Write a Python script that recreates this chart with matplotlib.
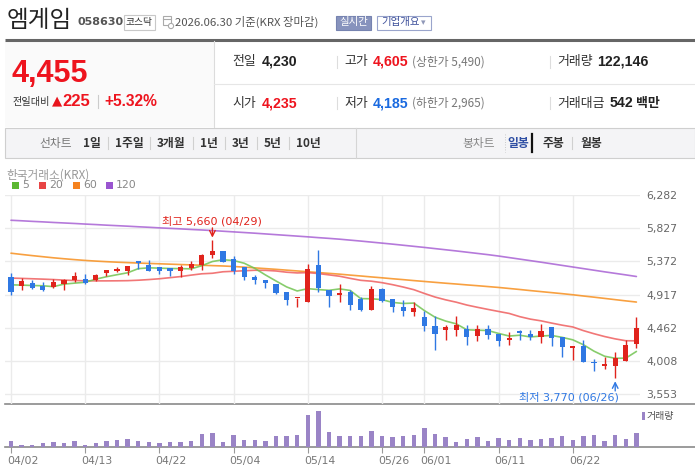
import matplotlib
matplotlib.use("Agg")
import matplotlib.pyplot as plt
import matplotlib.transforms as mtransforms
from matplotlib.patches import Rectangle
import numpy as np
import pandas as pd

# ---------------- data ----------------
dates = ["04/02","04/03","04/06","04/07","04/08","04/09","04/10","04/13","04/14","04/15",
         "04/16","04/17","04/20","04/21","04/22","04/23","04/24","04/27","04/28","04/29",
         "04/30","05/04","05/06","05/07","05/08","05/11","05/12","05/13","05/14","05/15",
         "05/18","05/19","05/20","05/21","05/22","05/26","05/27","05/28","05/29","06/01",
         "06/02","06/04","06/05","06/08","06/09","06/10","06/11","06/12","06/15","06/16",
         "06/17","06/18","06/19","06/22","06/23","06/24","06/25","06/26","06/29","06/30"]
opens  = [5157,5030,5080,5030,5025,5066,5112,5134,5121,5216,5250,5248,5380,5326,5294,
          5276,5248,5280,5326,5462,5517,5412,5298,5162,5121,5066,4957,4870,4811,5326,
          4984,4911,4948,4861,4711,4993,4857,4752,4684,4615,4493,4429,4429,4452,4347,
          4452,4374,4292,4415,4374,4333,4475,4333,4183,4220,4001,3937,3937,4006,4235]
highs  = [5212,5144,5121,5089,5130,5130,5230,5198,5203,5257,5294,5307,5380,5394,5294,
          5276,5320,5380,5480,5660,5517,5449,5298,5189,5121,5066,4957,4875,5335,5531,
          4984,5066,4975,4880,5039,5011,4857,4848,4811,4693,4620,4506,4629,4497,4506,
          4507,4374,4406,4438,4438,4520,4475,4333,4220,4302,4038,4065,4138,4302,4605]
lows   = [4907,4975,4998,4961,5011,4975,5084,5066,5107,5175,5225,5185,5275,5235,5207,
          5166,5157,5257,5257,5417,5358,5203,5112,5066,5011,4930,4770,4752,4811,4950,
          4743,4811,4711,4697,4711,4816,4675,4620,4620,4424,4165,4292,4356,4233,4288,
          4311,4211,4233,4302,4293,4252,4211,4060,4019,3997,3874,3906,3770,4006,4185]
closes = [4948,5107,5012,4975,5093,5121,5175,5071,5189,5257,5260,5307,5353,5248,5235,
          5235,5298,5339,5462,5521,5358,5244,5153,5112,5071,4943,4838,4875,5271,5007,
          4893,4934,4770,4711,4998,4834,4743,4697,4738,4483,4383,4479,4506,4333,4452,
          4361,4279,4329,4388,4333,4424,4320,4197,4220,3997,3983,3974,4056,4230,4455]
volumes = [52000,17000,17000,35000,44000,35000,52000,17000,35000,52000,61000,70000,52000,
           44000,35000,44000,44000,52000,113000,122000,44000,105000,61000,61000,52000,96000,
           96000,105000,279000,314000,131000,96000,96000,96000,140000,96000,87000,96000,
           105000,166000,113000,87000,44000,70000,87000,52000,79000,61000,79000,61000,70000,
           79000,96000,61000,96000,105000,52000,105000,70000,122146]
# moving averages whose start needs earlier history
ma5_head = [5052,5048,5043,5039]
ma20_head = [5144,5140,5135,5130,5124,5117,5111,5107,5106,5106,5107,5109,5115,5124,
             5135,5150,5165,5185,5203]
ma60 = [5485,5468,5452,5437,5422,5409,5397,5386,5377,5369,5362,5356,5350,5345,5340,
        5335,5330,5325,5320,5315,5310,5303,5294,5284,5274,5264,5253,5242,5231,5220,
        5209,5198,5185,5173,5160,5148,5135,5123,5110,5098,5086,5074,5063,5051,5040,
        5028,5016,5002,4988,4973,4959,4945,4931,4916,4899,4883,4866,4849,4832,4816]
ma120 = [5936,5929,5921,5914,5906,5899,5892,5884,5877,5869,5862,5855,5847,5840,5832,
         5825,5818,5810,5803,5795,5786,5777,5768,5759,5749,5739,5729,5719,5709,5698,
         5688,5677,5664,5651,5637,5623,5609,5594,5579,5564,5548,5532,5516,5499,5482,
         5465,5446,5425,5404,5383,5362,5340,5318,5296,5274,5252,5230,5209,5188,5166]
price_ticks = [3553,4008,4462,4917,5372,5827,6282]
date_ticks = ["04/02","04/13","04/22","05/04","05/14","05/26","06/01","06/11","06/22"]
ma_labels = ["5","20","60","120"]

# ---------------- style ----------------
UP = "#e0231c"; DOWN = "#2f78e3"
MA_COL = ["#72c452", "#ef5f5f", "#f7901f", "#a862d4"]
LEG_COL = ["#5cb832", "#e84545", "#f5821f", "#9a55d0"]
VOL_COL = "#9a84c6"
KR = ["Noto Sans CJK KR", "DejaVu Sans"]
NUMF = ["Liberation Sans", "DejaVu Sans"]
plt.rcParams["font.family"] = ["DejaVu Sans", "Noto Sans CJK KR"]

W, H = 695, 472
fig = plt.figure(figsize=(W/100, H/100), dpi=100)
bg = fig.add_axes([0, 0, 1, 1])
bg.set_xlim(0, W); bg.set_ylim(H, 0); bg.axis("off")

def rect(x0, y0, x1, y1):
    return [x0/W, 1-y1/H, (x1-x0)/W, (y1-y0)/H]

def t(x, y, s, size=9.5, color="#333", weight="normal", ha="left", va="center", family=KR, **kw):
    return bg.text(x, y, s, fontsize=size, color=color, fontweight=weight, ha=ha, va=va,
                   family=family, **kw)

# ---------------- header ----------------
t(7, 20.5, "엠게임", size=17, color="#222")
t(78, 22, "058630", size=8, color="#555", weight="bold", family=["DejaVu Sans"])
bg.add_patch(Rectangle((124, 14.5), 31, 15, fc="white", ec="#c8c8c8", lw=0.8))
t(139.5, 22, "코스닥", size=7, color="#333", ha="center")
# calendar icon
bg.add_patch(Rectangle((163, 16), 8, 9, fc="white", ec="#aaa", lw=0.8))
bg.plot([163, 171], [18.5, 18.5], color="#aaa", lw=0.8)
bg.add_patch(plt.Circle((171, 26), 2.6, fc="white", ec="#aaa", lw=0.8))
t(175, 22, "2026.06.30 기준(KRX 장마감)", size=8.2, color="#555")
bg.add_patch(Rectangle((336, 15.5), 35, 14, fc="#8793bd", ec="#7683b0", lw=0.8))
t(353.5, 22.5, "실시간", size=7.5, color="white", ha="center")
bg.add_patch(Rectangle((377, 15.5), 54, 14, fc="white", ec="#9aa5cc", lw=0.8))
t(381, 22.5, "기업개요", size=7.5, color="#3c4f9a")
t(423, 23, "▾", size=6.5, color="#9098b8", ha="center", family=["DejaVu Sans"])

# dark separator under title
bg.plot([5, 695], [40, 40], color="#666", lw=2.2, solid_capstyle="butt")

# info panel
bg.add_patch(Rectangle((5, 41), 209, 86, fc="#fafafa", ec="none"))
bg.plot([214, 214], [41, 127], color="#dcdcdc", lw=0.8)
bg.plot([214, 695], [84, 84], color="#e6e6e6", lw=0.8)
t(11, 74, "4,455", size=22, color="#ee141e", weight="bold", family=NUMF)
t(13, 101.5, "전일대비", size=7.3, color="#333")
t(51.5, 101, "▲", size=9.5, color="#e8141c", family=["DejaVu Sans"])
t(62.5, 101, "225", size=12, color="#ee141e", weight="bold", family=NUMF)
bg.plot([98, 98], [95, 108], color="#ccc", lw=0.8)
t(104, 101, "+5.32%", size=11.2, color="#ee141e", weight="bold", family=NUMF)

rows = [(62, [("전일", 232, 262, "4,230", "#222", None),
              ("고가", 344, 373, "4,605", "#ee141e", "(상한가 5,490)"),
              ("거래량", 557, 597, "122,146", "#222", None)]),
        (103, [("시가", 232, 262, "4,235", "#ee141e", None),
               ("저가", 344, 373, "4,185", "#1a6ae0", "(하한가 2,965)"),
               ("거래대금", 557, 610, "542", "#222", "백만")])]
for (y, items) in rows:
    for lab, x, vx, val, col, extra in items:
        t(x, y, lab, size=9.3, color="#333")
        t(vx, y, val, size=10.2, color=col, weight="bold", family=NUMF)
        if extra is not None:
            if lab == "거래대금":
                t(636, y, extra, size=9.3, color="#222", weight="bold")
            else:
                t(412, y, extra, size=8.5, color="#777", family=["Noto Sans CJK KR"])
    bg.plot([337, 337], [y-6, y+6], color="#ddd", lw=0.8)
    bg.plot([550, 550], [y-6, y+6], color="#ddd", lw=0.8)

# tab bar
bg.add_patch(Rectangle((5, 127.5), 690, 30.5, fc="#f4f4f6", ec="#cfcfcf", lw=0.8))
bg.plot([356, 356], [128, 158], color="#d5d5d5", lw=0.8)
t(39, 143, "선차트", size=8.5, color="#777")
tabs = [("1일", 83), ("1주일", 115), ("3개월", 157), ("1년", 200), ("3년", 232), ("5년", 264), ("10년", 296)]
for k, (s, x) in enumerate(tabs):
    t(x, 143, s, size=8.5, color="#333", weight="bold")
    if k < len(tabs) - 1:
        bg.plot([tabs[k+1][1]-7, tabs[k+1][1]-7], [137, 149], color="#d0d0d0", lw=0.8)
t(462, 143, "봉차트", size=8.5, color="#888")
t(507, 143, "일봉", size=8.5, color="#2f4fa4", weight="bold")
bg.plot([531.5, 531.5], [134, 152], color="#111", lw=1.6)
bg.plot([505, 505], [134, 152], color="#bbb", lw=0.6, ls=(0, (1, 2)))
t(543, 143, "주봉", size=8.5, color="#333", weight="bold")
bg.plot([572, 572], [137, 149], color="#d0d0d0", lw=0.8)
t(580, 143, "월봉", size=8.5, color="#333", weight="bold")

# chart headings
t(6, 175, "한국거래소(KRX)", size=8.4, color="#999")
leg_x = [12, 39, 73, 106]
for k in range(4):
    bg.add_patch(Rectangle((leg_x[k], 182), 6.5, 6.5, fc=LEG_COL[k], ec="none"))
    t(leg_x[k] + 10, 185.5, ma_labels[k], size=7.8, color="#888", family=["DejaVu Sans"])

# ---------------- price chart ----------------
n = len(closes)
idx = np.arange(n)
X0, X1 = 5, 640
XL = ((X0 - 11) / 10.6, (X1 - 11) / 10.6)
ax = fig.add_axes(rect(X0, 195, X1, 404))
ax.set_xlim(*XL)
ax.set_ylim(3420, 6282)
for s in ax.spines.values():
    s.set_visible(False)
ax.set_facecolor("none")
tick_idx = [dates.index(d) for d in date_ticks]
ax.set_xticks(tick_idx)
ax.tick_params(axis="x", length=0, labelbottom=False)
ax.set_yticks(price_ticks)
ax.set_yticklabels([f"{p:,}" for p in price_ticks])
ax.yaxis.tick_right()
ax.tick_params(axis="y", length=0, pad=4.5, labelsize=7.8, labelcolor="#666")
ax.grid(True, color="#ebebeb", lw=1.0)
ax.set_axisbelow(True)

cl = pd.Series(closes, dtype=float)
ma5 = cl.rolling(5).mean().to_numpy(); ma5[:4] = ma5_head
ma20 = cl.rolling(20).mean().to_numpy(); ma20[:19] = ma20_head
for vals, col in zip([ma120, ma60, ma20, ma5], MA_COL[::-1]):
    ax.plot(idx, vals, color=col, lw=1.2, alpha=0.85, zorder=2, solid_capstyle="round")

bw = 0.5
for i in range(n):
    o, h, l, c = opens[i], highs[i], lows[i], closes[i]
    col = UP if c >= o else DOWN
    ax.plot([i, i], [l, h], color=col, lw=1.0, zorder=3, solid_capstyle="butt")
    lo, hi = min(o, c), max(o, c)
    if hi - lo < 14:
        mid = (hi + lo) / 2
        lo, hi = mid - 7, mid + 7
    ax.add_patch(Rectangle((i - bw/2, lo), bw, hi - lo, fc=col, ec="none", zorder=4))

# high / low annotations
imax = int(np.argmax(highs)); imin = int(np.argmin(lows))
ax.annotate("", xy=(imax, highs[imax]), xytext=(0, 9), textcoords="offset points",
            arrowprops=dict(arrowstyle="->", color=UP, lw=1.0, shrinkA=0, shrinkB=2), zorder=5)
ax.annotate(f"최고 {highs[imax]:,} ({dates[imax]})", xy=(imax, highs[imax]), xytext=(0, 13.5),
            textcoords="offset points", ha="center", va="center", fontsize=8, color=UP, zorder=5)
ax.annotate("", xy=(imin, lows[imin]), xytext=(0, -9), textcoords="offset points",
            arrowprops=dict(arrowstyle="->", color=DOWN, lw=1.0, shrinkA=0, shrinkB=2), zorder=5)
ax.annotate(f"최저 {lows[imin]:,} ({dates[imin]})", xy=(imin, lows[imin]), xytext=(2.5, -13.5),
            textcoords="offset points", ha="right", va="center", fontsize=8, color=DOWN, zorder=5,
            annotation_clip=False)

# ---------------- volume chart ----------------
axv = fig.add_axes(rect(X0, 404, X1, 447))
axv.set_xlim(*XL)
axv.set_ylim(0, 375000)
for s in axv.spines.values():
    s.set_visible(False)
axv.set_facecolor("none")
axv.bar(idx, volumes, width=0.43, color=VOL_COL, zorder=2)
axv.set_yticks([])
axv.set_xticks(tick_idx)
axv.tick_params(axis="x", length=4, width=0.8, color="#999", labelbottom=False)
trans = mtransforms.blended_transform_factory(axv.transData, axv.transAxes)
for k, d in zip(tick_idx, date_ticks):
    axv.text(k - 0.38, -0.33, d, transform=trans, ha="left", va="center", fontsize=7.8,
             color="#777", clip_on=False)

bg.plot([5, 695], [404, 404], color="#8a8a8a", lw=1.2)
bg.plot([5, 695], [447, 447], color="#8a8a8a", lw=1.2)
bg.add_patch(Rectangle((641.5, 411.5), 3, 8, fc=VOL_COL, ec="none"))
t(647, 416, "거래량", size=7.2, color="#555")

fig.savefig("out.png", dpi=100)
